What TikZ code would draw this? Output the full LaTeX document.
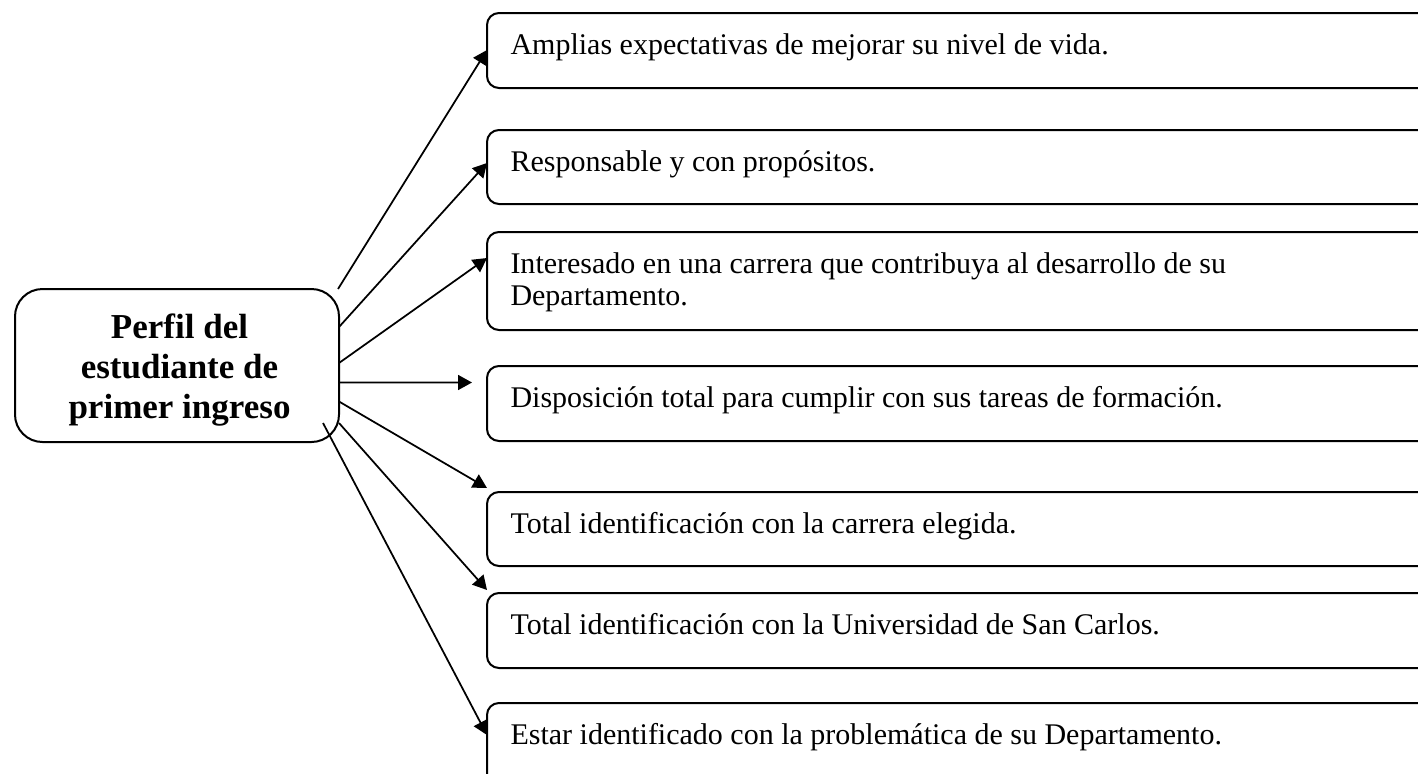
\documentclass[tikz,border=0pt]{standalone}
\usepackage{fontspec}
\setmainfont{Liberation Serif}
\usetikzlibrary{arrows.meta}
\tikzset{
  mainbox/.style={draw, line width=0.8pt, rounded corners=11pt, inner sep=0pt, outer sep=0pt,
    anchor=north west, minimum width=129.6pt, minimum height=61.2pt},
  sbox/.style={draw, line width=0.8pt, rounded corners=4.8pt, inner sep=0pt, outer sep=0pt,
    anchor=north west, minimum width=400pt},
  btext/.style={anchor=base west, inner sep=0pt, font=\fontsize{12pt}{12.8pt}\selectfont},
  mtext/.style={anchor=center, inner sep=0pt, align=center,
    font=\fontsize{14pt}{16pt}\selectfont\bfseries},
  conn/.style={line width=0.7pt, -{Triangle[length=5.6pt,width=6pt]}}
}
\begin{document}
\begin{tikzpicture}[x=0.4pt,y=-0.4pt]
\useasboundingbox (0,0) rectangle (1418,773);
\clip (0,0) rectangle (1418,773);
% left node
\node[mainbox] (L) at (15,289) {};
\node[mtext] (Lt) at (179.5,370) {Perfil del\\estudiante de\\primer ingreso};
% boxes
\node[sbox, minimum height=30pt]   (b1) at (487,13)  {};
\node[sbox, minimum height=29.6pt] (b2) at (487,130) {};
\node[sbox, minimum height=39.2pt] (b3) at (487,232) {};
\node[sbox, minimum height=30pt]   (b4) at (487,366) {};
\node[sbox, minimum height=29.6pt] (b5) at (487,492) {};
\node[sbox, minimum height=30pt]   (b6) at (487,593) {};
\node[sbox, minimum height=36pt]   (b7) at (487,703) {};
% texts
\node[btext] (t1) at ([shift={(23,41)}]b1.north west) {Amplias expectativas de mejorar su nivel de vida.};
\node[btext] (t2) at ([shift={(23,41)}]b2.north west) {Responsable y con propósitos.};
\node[btext] (t3) at ([shift={(23,41)}]b3.north west) {\begin{tabular}[t]{@{}l@{}}Interesado en una carrera que contribuya al desarrollo de su\\Departamento.\end{tabular}};
\node[btext] (t4) at ([shift={(23,41)}]b4.north west) {Disposición total para cumplir con sus tareas de formación.};
\node[btext] (t5) at ([shift={(23,41)}]b5.north west) {Total identificación con la carrera elegida.};
\node[btext] (t6) at ([shift={(23,41)}]b6.north west) {Total identificación con la Universidad de San Carlos.};
\node[btext] (t7) at ([shift={(23,41)}]b7.north west) {Estar identificado con la problemática de su Departamento.};
% connectors
\coordinate (e4) at ([shift={(-15,16.5)}]b4.north west);
\draw[conn] ([shift={(-1,0)}]L.north east) -- ([shift={(0,37)}]b1.north west);
\draw[conn] ([shift={(0,-38.5)}]L.east) -- ([shift={(0,33)}]b2.north west);
\draw[conn] ([shift={(0,-2.5)}]L.east) -- ([shift={(0,26)}]b3.north west);
\draw[conn] ([shift={(0,17)}]L.east) -- (e4);
\draw[conn] ([shift={(0,36)}]L.east) -- ([shift={(0,-4)}]b5.north west);
\draw[conn] ([shift={(0,-19)}]L.south east) -- ([shift={(0,-3)}]b6.north west);
\draw[conn] ([shift={(-16,-19)}]L.south east) -- ([shift={(0,32)}]b7.north west);
\end{tikzpicture}
\end{document}
